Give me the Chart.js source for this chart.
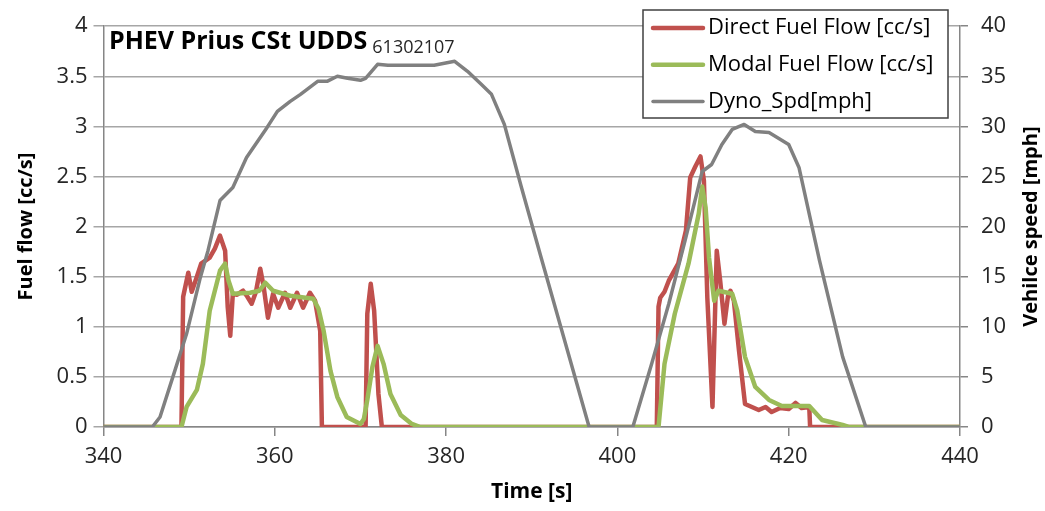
<!DOCTYPE html>
<html>
<head>
<meta charset="utf-8">
<script src="https://cdn.jsdelivr.net/npm/chart.js@4/dist/chart.umd.min.js"></script>
<style>
  html, body { margin: 0; padding: 0; background: #fff; }
  #wrap { width: 1045px; height: 511px; position: relative; }
</style>
</head>
<body>
<div id="wrap"><canvas id="chart" width="1045" height="511"></canvas></div>
<script>
// time [s] / value pairs
const directTime = [340, 349.1, 349.3, 349.9, 350.3, 350.9, 351.4, 352.4, 353.0, 353.6, 354.2, 354.5, 354.8, 355.1, 355.6, 356.3, 356.8, 357.3, 357.8, 358.3, 358.7, 359.2, 359.8, 360.4, 361.2, 361.8, 362.6, 363.3, 364.1, 364.7, 365.3, 365.5, 370.6, 370.8, 371.2, 371.6, 372.1, 372.5, 404.6, 404.8, 405.0, 405.5, 406.0, 407.1, 408.0, 408.5, 409.1, 409.7, 410.1, 410.5, 411.1, 411.6, 412.0, 412.5, 412.9, 413.2, 413.6, 414.2, 414.9, 415.7, 416.5, 417.3, 418.0, 419.0, 420.0, 420.8, 421.5, 422.4, 422.5, 440];
const directFlow = [0, 0, 1.3, 1.54, 1.35, 1.5, 1.63, 1.69, 1.78, 1.91, 1.76, 1.2, 0.91, 1.33, 1.32, 1.36, 1.3, 1.23, 1.35, 1.58, 1.4, 1.09, 1.33, 1.19, 1.34, 1.19, 1.34, 1.19, 1.34, 1.26, 0.96, 0, 0, 1.13, 1.43, 1.16, 0.33, 0, 0, 1.2, 1.29, 1.35, 1.46, 1.63, 1.96, 2.49, 2.6, 2.7, 2.46, 1.29, 0.2, 1.76, 1.46, 1.03, 1.3, 1.36, 1.26, 0.76, 0.23, 0.2, 0.17, 0.2, 0.15, 0.19, 0.18, 0.24, 0.19, 0.2, 0, 0];

const modalTime = [340, 349.1, 349.7, 350.9, 351.6, 352.4, 353.6, 354.2, 354.6, 355.1, 357.1, 358.2, 358.9, 359.8, 361.8, 364.5, 365.1, 365.7, 366.5, 367.3, 368.4, 370.0, 370.4, 370.8, 371.4, 372.0, 372.7, 373.5, 374.7, 376.0, 377.0, 404.8, 405.5, 406.7, 408.3, 409.5, 409.9, 410.3, 410.7, 411.3, 411.8, 413.4, 414.0, 414.9, 416.1, 417.7, 419.2, 422.4, 423.9, 426.3, 427.0, 440];
const modalFlow = [0, 0, 0.2, 0.37, 0.63, 1.16, 1.56, 1.63, 1.46, 1.33, 1.34, 1.36, 1.44, 1.36, 1.31, 1.28, 1.18, 0.96, 0.56, 0.3, 0.1, 0.03, 0.08, 0.27, 0.6, 0.81, 0.63, 0.33, 0.12, 0.03, 0, 0, 0.63, 1.13, 1.63, 2.13, 2.4, 2.19, 1.69, 1.26, 1.36, 1.33, 1.16, 0.7, 0.4, 0.27, 0.21, 0.21, 0.07, 0.02, 0, 0];

const speedTime = [340, 345.7, 346.6, 348.1, 349.7, 351.3, 352.2, 353.6, 355.1, 356.7, 359.1, 360.3, 361.8, 363.0, 365.0, 366.1, 367.3, 368.5, 370.0, 370.6, 372.0, 373.2, 378.6, 381.0, 382.5, 384.1, 385.3, 386.8, 388.8, 391.1, 396.7, 401.8, 404.0, 406.0, 407.9, 409.9, 411.0, 412.2, 413.4, 414.8, 416.1, 417.7, 420.0, 421.2, 423.6, 426.3, 429.0, 440];
const speedMph = [0, 0, 1, 5, 9.3, 14.9, 17.6, 22.6, 23.9, 26.9, 29.9, 31.5, 32.5, 33.2, 34.5, 34.5, 35.0, 34.8, 34.6, 34.8, 36.2, 36.1, 36.1, 36.5, 35.5, 34.2, 33.2, 30.2, 23.9, 16.9, 0, 0, 6.3, 12.3, 18.6, 25.5, 26.2, 28.2, 29.7, 30.2, 29.5, 29.4, 28.2, 25.9, 16.6, 7, 0, 0];

const seriesNames = ["Direct Fuel Flow [cc/s]", "Modal Fuel Flow [cc/s]", "Dyno_Spd[mph]"];
const seriesColors = ["#c0504d", "#9bbb59", "#808080"];

const FONT = "'Open Sans', sans-serif";
const pairs = (xs, ys) => xs.map((x, i) => ({ x: x, y: ys[i] }));

// title drawn inside the plot
const titlePlugin = {
  id: "plotTitle",
  afterDraw(chart) {
    const ctx = chart.ctx;
    ctx.save();
    ctx.fillStyle = "#000";
    ctx.textBaseline = "alphabetic";
    ctx.font = "bold 25px " + FONT;
    ctx.fillText("PHEV Prius CSt UDDS", 109, 49);
    const w = ctx.measureText("PHEV Prius CSt UDDS").width;
    ctx.font = "18px " + FONT;
    ctx.fillStyle = "#262626";
    ctx.fillText("61302107", 109 + w + 5, 53);
    // right axis title, reading upwards
    ctx.font = "bold 20px " + FONT;
    ctx.fillStyle = "#000";
    ctx.translate(1031, (chart.chartArea.top + chart.chartArea.bottom) / 2);
    ctx.rotate(-Math.PI / 2);
    ctx.textAlign = "center";
    ctx.textBaseline = "middle";
    ctx.fillText("Vehilce speed [mph]", 0, 0);
    ctx.restore();
  }
};

// boxed legend in the top right corner
const legendPlugin = {
  id: "boxLegend",
  afterDraw(chart) {
    const ctx = chart.ctx;
    const x0 = 643, y0 = 10, w = 305, h = 108;
    ctx.save();
    ctx.fillStyle = "#fff";
    ctx.fillRect(x0, y0, w, h);
    ctx.strokeStyle = "#404040";
    ctx.lineWidth = 1.5;
    ctx.strokeRect(x0, y0, w, h);
    ctx.font = "22px " + FONT;
    ctx.textBaseline = "middle";
    chart.data.datasets.forEach((ds, i) => {
      const y = 28 + i * 36.7;
      ctx.strokeStyle = ds.borderColor;
      ctx.lineWidth = ds.borderWidth;
      ctx.lineCap = "round";
      ctx.beginPath();
      ctx.moveTo(653, y);
      ctx.lineTo(703, y);
      ctx.stroke();
      ctx.fillStyle = "#000";
      ctx.fillText(ds.label, 708, y);
    });
    ctx.restore();
  }
};

new Chart(document.getElementById("chart"), {
  type: "line",
  data: {
    datasets: [
      { label: seriesNames[0], data: pairs(directTime, directFlow), borderColor: seriesColors[0], borderWidth: 4.5, yAxisID: "y", order: 2 },
      { label: seriesNames[1], data: pairs(modalTime, modalFlow), borderColor: seriesColors[1], borderWidth: 4.5, yAxisID: "y", order: 1 },
      { label: seriesNames[2], data: pairs(speedTime, speedMph), borderColor: seriesColors[2], borderWidth: 3.5, yAxisID: "y2", order: 0 }
    ]
  },
  options: {
    responsive: false,
    animation: false,
    events: [],
    layout: { padding: { top: 25, left: 0, right: 0, bottom: 0 } },
    elements: { point: { radius: 0 }, line: { tension: 0, borderJoinStyle: "round" } },
    plugins: { legend: { display: false }, tooltip: { enabled: false } },
    scales: {
      x: {
        type: "linear",
        min: 340, max: 440,
        ticks: { stepSize: 20, padding: 8, color: "#262626", font: { family: FONT, size: 22 } },
        grid: { drawOnChartArea: false, tickLength: 9, color: "#868686", lineWidth: 1.5 },
        border: { color: "#868686", width: 1.5 },
        title: { display: true, text: "Time [s]", color: "#000", font: { family: FONT, size: 21, weight: "bold" }, padding: { top: 0, bottom: 6 } },
        afterFit(s) { s.height = 84; }
      },
      y: {
        position: "left",
        min: 0, max: 4,
        ticks: { stepSize: 0.5, padding: 6, color: "#262626", font: { family: FONT, size: 22 }, callback: v => String(v) },
        grid: { color: "#a6a6a6", lineWidth: 1.5, tickLength: 10 },
        border: { color: "#868686", width: 1.5 },
        title: { display: true, text: "Fuel flow [cc/s]", color: "#000", font: { family: FONT, size: 20, weight: "bold" }, padding: { top: 14, bottom: 0 } },
        afterFit(s) { s.width = 103.5; }
      },
      y2: {
        position: "right",
        min: 0, max: 40,
        ticks: { stepSize: 5, padding: 13, color: "#262626", font: { family: FONT, size: 22 } },
        grid: { drawOnChartArea: false, tickLength: 8, color: "#868686", lineWidth: 1.5 },
        border: { color: "#868686", width: 1.5 },
        afterFit(s) { s.width = 85; }
      }
    }
  },
  plugins: [legendPlugin, titlePlugin]
});
</script>
</body>
</html>
